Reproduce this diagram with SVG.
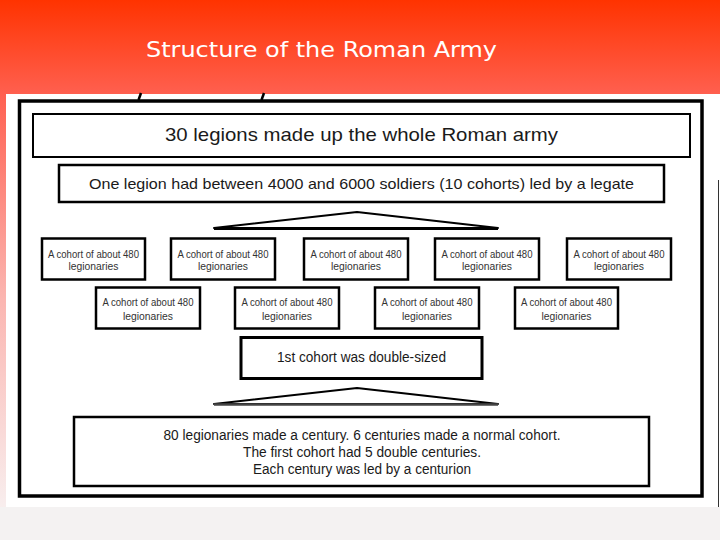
<svg xmlns="http://www.w3.org/2000/svg" width="720" height="540" viewBox="0 0 720 540">
  <defs>
    <linearGradient id="bg" x1="0" y1="0" x2="0" y2="1">
      <stop offset="0" stop-color="#FF3300"/>
      <stop offset="0.18" stop-color="#FF6152"/>
      <stop offset="0.55" stop-color="#FBB5B0"/>
      <stop offset="0.94" stop-color="#F8EEEE"/>
      <stop offset="1" stop-color="#F4F2F2"/>
    </linearGradient>
    <style>
      .frame { fill: #FFFFFF; stroke: #000000; }
      .txt { font-family: "Liberation Sans", "DejaVu Sans", sans-serif; fill: #1A1A1A; text-anchor: middle; }
      .small { font-size: 10px; fill: #333333; }
      .tri { fill: #FFFFFF; stroke: #000000; stroke-width: 2; stroke-linejoin: round; }
    </style>
  </defs>

  <!-- slide background -->
  <rect x="0" y="0" width="720" height="540" fill="url(#bg)"/>
  <rect x="0" y="507" width="720" height="33" fill="#F4F2F2"/>
  <text x="321.5" y="57" font-family="'DejaVu Sans', 'Liberation Sans', sans-serif" font-size="21" fill="#FFFFFF" text-anchor="middle" textLength="351" lengthAdjust="spacingAndGlyphs">Structure of the Roman Army</text>

  <!-- picture area -->
  <rect x="6" y="94" width="714" height="413" fill="#FFFFFF"/>
  <line x1="718.5" y1="180" x2="718.5" y2="507" stroke="#333333" stroke-width="1"/>
  <line x1="141" y1="93" x2="138.5" y2="100" stroke="#000000" stroke-width="2.5"/>
  <line x1="264" y1="93" x2="261.5" y2="100" stroke="#000000" stroke-width="2.5"/>
  <rect x="19.5" y="101" width="682.5" height="395" fill="none" stroke="#000000" stroke-width="3.5"/>

  <g id="connectors">
    <polygon class="tri" points="214,228 357,212 498,228"/>
    <line x1="214" y1="228.5" x2="498" y2="228.5" stroke="#000000" stroke-width="3"/>
    <polygon class="tri" points="214,404 357,388 498,404"/>
    <line x1="214" y1="404.5" x2="498" y2="404.5" stroke="#444444" stroke-width="2.5"/>
  </g>

  <g id="army">
    <rect class="frame" x="33" y="114" width="657" height="43" stroke-width="2"/>
    <text class="txt" x="361.5" y="141" font-size="19" textLength="393" lengthAdjust="spacingAndGlyphs">30 legions made up the whole Roman army</text>
  </g>

  <g id="legion">
    <rect class="frame" x="59" y="165" width="605" height="37" stroke-width="2.5"/>
    <text class="txt" x="361.5" y="189" font-size="15" textLength="545" lengthAdjust="spacingAndGlyphs">One legion had between 4000 and 6000 soldiers (10 cohorts) led by a legate</text>
  </g>

  <g id="cohort1">
    <rect class="frame" x="42" y="238.5" width="103" height="41" stroke-width="2.5"/>
    <text class="txt small" x="93.5" y="258" textLength="91" lengthAdjust="spacingAndGlyphs">A cohort of about 480</text>
    <text class="txt small" x="93.5" y="270" textLength="50" lengthAdjust="spacingAndGlyphs">legionaries</text>
  </g>
  <g id="cohort2">
    <rect class="frame" x="171" y="238.5" width="104" height="41" stroke-width="2.5"/>
    <text class="txt small" x="223" y="258" textLength="91" lengthAdjust="spacingAndGlyphs">A cohort of about 480</text>
    <text class="txt small" x="223" y="270" textLength="50" lengthAdjust="spacingAndGlyphs">legionaries</text>
  </g>
  <g id="cohort3">
    <rect class="frame" x="304" y="238.5" width="104" height="41" stroke-width="2.5"/>
    <text class="txt small" x="356" y="258" textLength="91" lengthAdjust="spacingAndGlyphs">A cohort of about 480</text>
    <text class="txt small" x="356" y="270" textLength="50" lengthAdjust="spacingAndGlyphs">legionaries</text>
  </g>
  <g id="cohort4">
    <rect class="frame" x="435" y="238.5" width="104" height="41" stroke-width="2.5"/>
    <text class="txt small" x="487" y="258" textLength="91" lengthAdjust="spacingAndGlyphs">A cohort of about 480</text>
    <text class="txt small" x="487" y="270" textLength="50" lengthAdjust="spacingAndGlyphs">legionaries</text>
  </g>
  <g id="cohort5">
    <rect class="frame" x="567" y="238.5" width="104" height="41" stroke-width="2.5"/>
    <text class="txt small" x="619" y="258" textLength="91" lengthAdjust="spacingAndGlyphs">A cohort of about 480</text>
    <text class="txt small" x="619" y="270" textLength="50" lengthAdjust="spacingAndGlyphs">legionaries</text>
  </g>
  <g id="cohort6">
    <rect class="frame" x="96" y="287.5" width="104" height="41" stroke-width="2.5"/>
    <text class="txt small" x="148" y="306" textLength="91" lengthAdjust="spacingAndGlyphs">A cohort of about 480</text>
    <text class="txt small" x="148" y="320" textLength="50" lengthAdjust="spacingAndGlyphs">legionaries</text>
  </g>
  <g id="cohort7">
    <rect class="frame" x="235" y="287.5" width="104" height="41" stroke-width="2.5"/>
    <text class="txt small" x="287" y="306" textLength="91" lengthAdjust="spacingAndGlyphs">A cohort of about 480</text>
    <text class="txt small" x="287" y="320" textLength="50" lengthAdjust="spacingAndGlyphs">legionaries</text>
  </g>
  <g id="cohort8">
    <rect class="frame" x="375" y="287.5" width="104" height="41" stroke-width="2.5"/>
    <text class="txt small" x="427" y="306" textLength="91" lengthAdjust="spacingAndGlyphs">A cohort of about 480</text>
    <text class="txt small" x="427" y="320" textLength="50" lengthAdjust="spacingAndGlyphs">legionaries</text>
  </g>
  <g id="cohort9">
    <rect class="frame" x="515" y="287.5" width="103" height="41" stroke-width="2.5"/>
    <text class="txt small" x="566.5" y="306" textLength="91" lengthAdjust="spacingAndGlyphs">A cohort of about 480</text>
    <text class="txt small" x="566.5" y="320" textLength="50" lengthAdjust="spacingAndGlyphs">legionaries</text>
  </g>

  <g id="first-cohort">
    <rect class="frame" x="241" y="337.5" width="241" height="41" stroke-width="3"/>
    <text class="txt" x="361.5" y="362" font-size="14" textLength="169" lengthAdjust="spacingAndGlyphs">1st cohort was double-sized</text>
  </g>

  <g id="century">
    <rect class="frame" x="74" y="417" width="575" height="69" stroke-width="2.5"/>
    <text class="txt" x="362" y="440" font-size="14" textLength="397" lengthAdjust="spacingAndGlyphs">80 legionaries made a century. 6 centuries made a normal cohort.</text>
    <text class="txt" x="362" y="457" font-size="14" textLength="238" lengthAdjust="spacingAndGlyphs">The first cohort had 5 double centuries.</text>
    <text class="txt" x="362" y="474" font-size="14" textLength="218" lengthAdjust="spacingAndGlyphs">Each century was led by a centurion</text>
  </g>
</svg>
